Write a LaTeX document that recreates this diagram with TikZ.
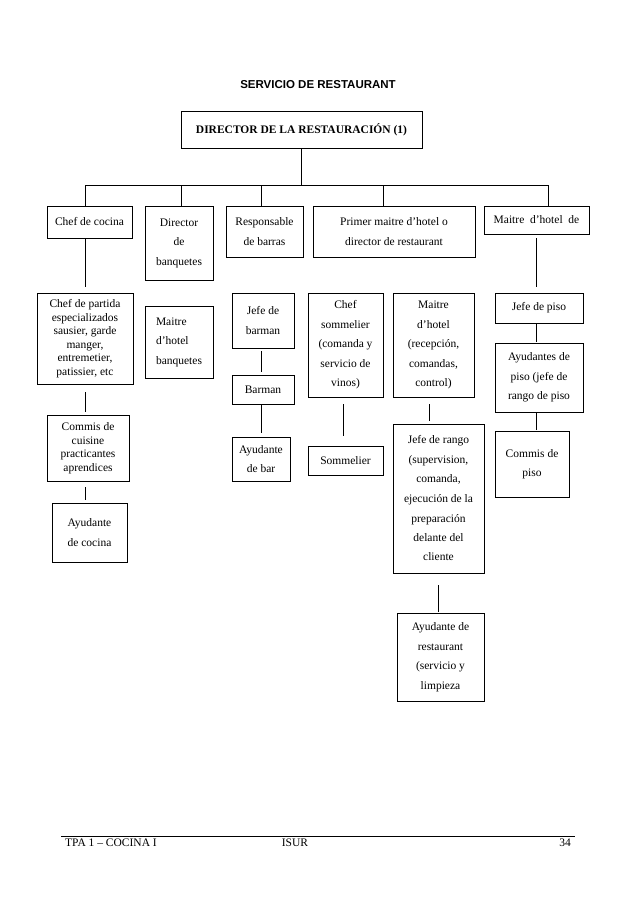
\documentclass[tikz,border=0pt]{standalone}
\usepackage{fontspec}
\setmainfont{Liberation Serif}
\setsansfont{Liberation Sans}
\usepackage{tikz}
\usetikzlibrary{calc}
\tikzset{
  link/.style={draw=black,line width=.9pt},
  unit/.style={draw=black,line width=.9pt,align=center,inner sep=0pt,
               font=\fontsize{11.5}{19.5}\selectfont},
  tight/.style={unit,font=\fontsize{11.5}{13.5}\selectfont},
  sz/.style 2 args={minimum width=#1,minimum height=#2},
  foot/.style={inner sep=0pt,font=\fontsize{11.5}{14}\selectfont}
}
\begin{document}
\begin{tikzpicture}[x=1pt,y=-1pt]
  \useasboundingbox[fill=white] (0,0) rectangle (638,902);
  \node[font=\sffamily\bfseries\fontsize{11.5}{14}\selectfont] (title) at (318,85) {SERVICIO DE RESTAURANT};
  \node[unit,sz={241pt}{37pt},font=\bfseries\fontsize{11.5}{14}\selectfont] (dir) at (301.5,129.5) {DIRECTOR DE LA RESTAURACIÓN (1)};
  \node[unit,sz={85pt}{32pt}] (cocina) at (89.5,222) {Chef de cocina};
  \node[unit,sz={68pt}{74pt}] (banq) at (179,243) {Director\\de\\banquetes};
  \node[unit,sz={77pt}{51pt}] (barras) at (264.5,231.5) {Responsable\\de barras};
  \node[unit,sz={162pt}{51pt}] (primer) at (394,231.5) {Primer maitre d’hotel o\\director de restaurant};
  \node[unit,sz={105pt}{28pt}] (mhde) at (536.5,220) {Maitre\ \ d’hotel\ \ de};
  \node[tight,sz={96pt}{91pt}] (partida) at (85,338.5) {Chef de partida\\especializados\\sausier, garde\\manger,\\entremetier,\\patissier, etc};
  \node[tight,sz={82pt}{66pt}] (commis) at (88,448) {Commis de\\cuisine\\practicantes\\aprendices};
  \node[unit,sz={75pt}{59pt}] (ayudcoc) at (89.5,532.5) {Ayudante\\de cocina};
  \node[unit,sz={68pt}{72pt},align=left] (mhban) at (179,342) {Maitre\\d’hotel\\banquetes};
  \node[unit,sz={62pt}{55pt}] (jbarman) at (263,320.5) {Jefe de\\barman};
  \node[unit,sz={62pt}{29pt}] (barman) at (263,389.5) {Barman};
  \node[unit,sz={58pt}{44pt}] (ayudbar) at (261,459) {Ayudante\\de bar};
  \node[unit,sz={75pt}{104pt}] (chefsom) at (345.5,345) {Chef\\sommelier\\(comanda y\\servicio de\\vinos)};
  \node[unit,sz={75pt}{29pt}] (somm) at (345.5,460.5) {Sommelier};
  \node[unit,sz={81pt}{104pt}] (maitre) at (433.5,345) {Maitre\\d’hotel\\(recepción,\\comandas,\\control)};
  \node[unit,sz={91pt}{149pt}] (rango) at (438.5,498.5) {Jefe de rango\\(supervision,\\comanda,\\ejecución de la\\preparación\\delante del\\cliente};
  \node[unit,sz={87pt}{88pt}] (ayudrest) at (440.5,657) {Ayudante de\\restaurant\\(servicio y\\limpieza};
  \node[unit,sz={88pt}{30pt}] (jpiso) at (539,308) {Jefe de piso};
  \node[unit,sz={88pt}{69pt}] (ayudpiso) at (539,377.5) {Ayudantes de\\piso (jefe de\\rango de piso};
  \node[unit,sz={74pt}{66pt}] (compiso) at (532,464) {Commis de\\piso};
  \coordinate (busL) at (85,185);
  \coordinate (busR) at (548,185);
  \draw[link] (busL) -- (busR);
  \draw[link] (dir) -- (dir |- busL);
  \foreach \n/\dx in {cocina/-4.5,banq/2,barras/-3.5,primer/-11,mhde/11.5}
    \draw[link] ([xshift=\dx pt]\n.north) -- ([xshift=\dx pt]\n.north |- busL);
  \foreach \a/\b/\dx/\s/\t in {cocina/partida/-4.5/0/6,partida/commis/0/8/3,commis/ayudcoc/-3/6/3,
      mhde/jpiso/-0.5/4/6,jbarman/barman/-2/3/3,barman/ayudbar/-2/0/4,chefsom/somm/-2.5/7/10,
      maitre/rango/-4.5/7/3,rango/ayudrest/-0.5/12/1,jpiso/ayudpiso/-3/0/1,ayudpiso/compiso/-3/0/1}
    \draw[link,shorten <=\s pt,shorten >=\t pt] ([xshift=\dx pt]\a.south) -- ([xshift=\dx pt]\a.south |- \b.north);
  \coordinate (ruleL) at (61,836);
  \coordinate (ruleR) at (575,836);
  \draw[link] (ruleL) -- (ruleR);
  \node[foot,anchor=west] (ftl) at (65,843) {TPA 1 – COCINA I};
  \node[foot] (ftc) at (295,843) {ISUR};
  \node[foot,anchor=east] (ftr) at (571,843) {34};
\end{tikzpicture}
\end{document}
